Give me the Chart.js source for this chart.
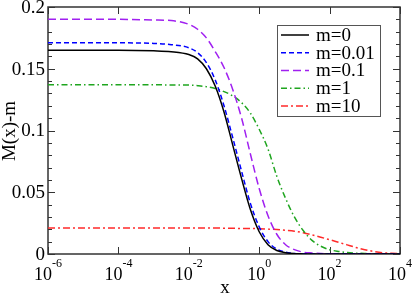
<!DOCTYPE html>
<html>
<head>
<meta charset="utf-8">
<script src="https://cdn.jsdelivr.net/npm/chart.js@4/dist/chart.umd.min.js"></script>
<style>
  html, body { margin: 0; padding: 0; background: #fff; }
  #wrap { width: 415px; height: 294px; }
</style>
</head>
<body>
<div id="wrap"><canvas id="chart" width="415" height="294"></canvas></div>
<script>
// x grid (quarter decades around the drop)
const xs = [1e-6, 1e-4, 1e-3, 0.00316, 0.01, 0.0178, 0.0316, 0.0562, 0.1, 0.178, 0.316, 0.562,
            1, 1.78, 3.16, 5.62, 10, 17.8, 31.6, 56.2, 100, 178, 316, 562, 1000, 1780, 3160, 5620, 10000];

const m0   = [0.165, 0.165, 0.1645, 0.1638, 0.1615, 0.158, 0.150, 0.136, 0.115, 0.088, 0.061, 0.036,
              0.018, 0.0075, 0.0028, 0.001, 0.0003, 0.0001, 0, 0, 0, 0, 0, 0, 0, 0, 0, 0, 0];
const m001 = [0.171, 0.171, 0.1705, 0.1695, 0.167, 0.163, 0.155, 0.141, 0.120, 0.094, 0.067, 0.041,
              0.022, 0.010, 0.004, 0.0015, 0.0005, 0.0002, 0.0001, 0, 0, 0, 0, 0, 0, 0, 0, 0, 0];
const m01  = [0.190, 0.190, 0.1895, 0.189, 0.186, 0.182, 0.175, 0.164, 0.151, 0.133, 0.110, 0.081,
              0.053, 0.031, 0.016, 0.0075, 0.0035, 0.0015, 0.0008, 0.0004, 0.0002, 0.0001, 0, 0, 0, 0, 0, 0, 0];
const m1   = [0.137, 0.137, 0.137, 0.1369, 0.1368, 0.1363, 0.1355, 0.134, 0.1315, 0.128, 0.1225, 0.114,
              0.101, 0.085, 0.063, 0.045, 0.030, 0.019, 0.011, 0.0063, 0.0035, 0.0021, 0.0012, 0.0007, 0.0004, 0.0002, 0.0001, 0, 0];
const m10  = [0.021, 0.021, 0.021, 0.021, 0.021, 0.021, 0.021, 0.021, 0.0209, 0.0208, 0.0207, 0.0206,
              0.0205, 0.0202, 0.0198, 0.0192, 0.0185, 0.0172, 0.0155, 0.0136, 0.0116, 0.0095, 0.0074, 0.0053, 0.0035, 0.0021, 0.0011, 0.0006, 0.0003];

const seriesNames = ['m=0', 'm=0.01', 'm=0.1', 'm=1', 'm=10'];
const seriesColors = ['#000000', '#0000ff', '#a020f0', '#1fa51f', '#ff2a2a'];
const seriesDashes = [[], [5, 3], [8, 4], [6, 3, 1.5, 3], [7, 3, 2, 3]];

const xTicks = [1e-6, 1e-4, 1e-2, 1, 1e2, 1e4];
const xTickExp = ['-6', '-4', '-2', '0', '2', '4'];
const yTicks = [0, 0.05, 0.1, 0.15, 0.2];
const yTickLabels = ['0', '0.05', '0.1', '0.15', '0.2'];
const yMinor = [0.01, 0.02, 0.03, 0.04, 0.06, 0.07, 0.08, 0.09, 0.11, 0.12, 0.13, 0.14, 0.16, 0.17, 0.18, 0.19];

const FONT = '"Liberation Serif", "Times New Roman", serif';

function pts(ys) {
    return xs.map((x, i) => ({ x: x, y: ys[i] }));
}

const allSeries = [m0, m001, m01, m1, m10];
const datasets = allSeries.map((ys, i) => ({
    label: seriesNames[i],
    data: pts(ys),
    borderColor: seriesColors[i],
    borderDash: seriesDashes[i],
    borderWidth: 1.5,
    pointRadius: 0,
    fill: false,
    cubicInterpolationMode: 'monotone'
}));

// frame, inward ticks, tick labels, axis titles
const framePlugin = {
    id: 'frame',
    beforeDatasetsDraw(chart) {
        const ctx = chart.ctx;
        const a = chart.chartArea;
        const sx = chart.scales.x, sy = chart.scales.y;
        ctx.save();
        ctx.strokeStyle = '#333';
        ctx.lineWidth = 1.5;
        ctx.strokeRect(a.left, a.top, a.right - a.left, a.bottom - a.top);

        ctx.lineWidth = 1;
        ctx.beginPath();
        xTicks.forEach(v => {
            const px = Math.round(sx.getPixelForValue(v)) + 0.5;
            ctx.moveTo(px, a.bottom); ctx.lineTo(px, a.bottom - 7);
            ctx.moveTo(px, a.top); ctx.lineTo(px, a.top + 7);
        });
        yTicks.forEach(v => {
            const py = Math.round(sy.getPixelForValue(v)) + 0.5;
            ctx.moveTo(a.left, py); ctx.lineTo(a.left + 7, py);
            ctx.moveTo(a.right, py); ctx.lineTo(a.right - 7, py);
        });
        yMinor.forEach(v => {
            const py = Math.round(sy.getPixelForValue(v)) + 0.5;
            ctx.moveTo(a.left, py); ctx.lineTo(a.left + 4, py);
            ctx.moveTo(a.right, py); ctx.lineTo(a.right - 4, py);
        });
        ctx.stroke();

        ctx.fillStyle = '#000';
        // x tick labels: 10 with superscript
        xTicks.forEach((v, i) => {
            const px = sx.getPixelForValue(v);
            ctx.font = '18px ' + FONT;
            const w1 = ctx.measureText('10').width;
            ctx.font = '12px ' + FONT;
            const w2 = ctx.measureText(xTickExp[i]).width;
            const x0 = px - (w1 + w2) / 2;
            ctx.textAlign = 'left';
            ctx.textBaseline = 'alphabetic';
            ctx.font = '18px ' + FONT;
            ctx.fillText('10', x0, 280);
            ctx.font = '12px ' + FONT;
            ctx.fillText(xTickExp[i], x0 + w1, 267);
        });
        // y tick labels
        ctx.font = '19px ' + FONT;
        ctx.textAlign = 'right';
        ctx.textBaseline = 'middle';
        yTicks.forEach((v, i) => {
            ctx.fillText(yTickLabels[i], 45, sy.getPixelForValue(v) + 1);
        });
        // axis titles
        ctx.textAlign = 'center';
        ctx.textBaseline = 'alphabetic';
        ctx.fillText('x', 225, 293);
        ctx.translate(15, 131);
        ctx.rotate(-Math.PI / 2);
        ctx.fillText('M(x)-m', 0, 0);
        ctx.restore();
    },
    afterDraw(chart) {
        // legend box
        const ctx = chart.ctx;
        ctx.save();
        ctx.fillStyle = '#fff';
        ctx.fillRect(277, 25, 103, 91);
        ctx.strokeStyle = '#555';
        ctx.lineWidth = 1;
        ctx.strokeRect(277.5, 25.5, 103, 91);
        ctx.font = '19px ' + FONT;
        ctx.textAlign = 'left';
        ctx.textBaseline = 'middle';
        chart.data.datasets.forEach((ds, i) => {
            const y = 35 + i * 17.75;
            ctx.strokeStyle = ds.borderColor;
            ctx.lineWidth = 1.5;
            ctx.setLineDash(ds.borderDash);
            ctx.beginPath();
            ctx.moveTo(281, y); ctx.lineTo(309, y);
            ctx.stroke();
            ctx.setLineDash([]);
            ctx.fillStyle = '#000';
            ctx.fillText(ds.label, 316, y + 1);
        });
        ctx.restore();
    }
};

new Chart(document.getElementById('chart'), {
    type: 'line',
    data: { datasets: datasets },
    options: {
        responsive: false,
        animation: false,
        layout: { padding: { left: 48, right: 15, top: 7, bottom: 40 } },
        plugins: { legend: { display: false }, tooltip: { enabled: false } },
        scales: {
            x: { type: 'logarithmic', min: 1e-6, max: 1e4, display: false },
            y: { type: 'linear', min: 0, max: 0.2, display: false }
        }
    },
    plugins: [framePlugin]
});
</script>
</body>
</html>
